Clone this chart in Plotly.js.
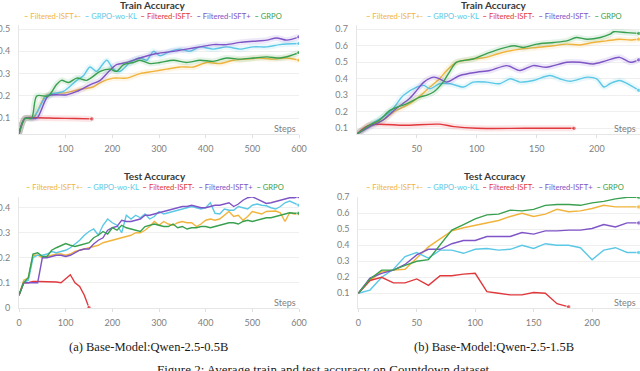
<!DOCTYPE html>
<html>
<head>
<meta charset="utf-8">
<script src="https://cdn.plot.ly/plotly-3.0.1.min.js"></script>
<style>
  html, body { margin: 0; padding: 0; background: #fff; }
  #chart { width: 640px; height: 371px; }
</style>
</head>
<body>
<div id="chart"></div>
<script>
// series order: Filtered-ISFT+-, GRPO-wo-KL, Filtered-ISFT-, Filtered-ISFT+, GRPO
var colors = ['#f0b43c', '#5bc8e6', '#e0383c', '#7e54c6', '#39a04f'];
var namesA = ['Filtered-ISFT+-', 'GRPO-wo-KL', 'Filtered-ISFT-', 'Filtered-ISFT+', 'GRPO'];
var namesB = ['Filtered-ISFT+-', 'GRPO-wo-KL', 'Filtered-ISFT-', 'Filtered-ISFT-', 'GRPO'];

// ---- Train accuracy, Qwen-2.5-0.5B (smoothed curves)
var tr05OrangeX = [0,13,30,56,70,102,131,159,174,202,231,259,288,316,345,374,402,431,459,488,516,545,574,600];
var tr05OrangeY = [0.03,0.1,0.1,0.2,0.21,0.215,0.23,0.24,0.26,0.28,0.28,0.3,0.31,0.32,0.33,0.33,0.35,0.345,0.36,0.365,0.37,0.365,0.37,0.36];
var tr05CyanX = [0,13,30,59,95,124,138,152,166,188,202,216,238,259,274,288,302,324,345,366,388,416,445,474,502,531,559,600];
var tr05CyanY = [0.03,0.1,0.1,0.2,0.22,0.27,0.29,0.33,0.31,0.36,0.32,0.31,0.35,0.37,0.36,0.4,0.38,0.4,0.41,0.4,0.42,0.41,0.42,0.41,0.42,0.42,0.43,0.435];
var tr05RedX = [0,13,40,80,120,156];
var tr05RedY = [0.03,0.1,0.102,0.1,0.099,0.097];
var tr05PurpleX = [0,13,38,63,102,124,152,174,188,209,231,259,295,331,359,388,416,445,474,502,531,552,574,600];
var tr05PurpleY = [0.03,0.1,0.1,0.2,0.205,0.22,0.25,0.27,0.3,0.34,0.35,0.37,0.39,0.4,0.41,0.42,0.43,0.43,0.44,0.445,0.45,0.46,0.45,0.465];
var tr05GreenX = [0,13,27,38,63,80,91,106,124,145,174,195,209,224,245,259,281,302,331,359,388,416,445,474,502,531,559,581,600];
var tr05GreenY = [0.03,0.1,0.1,0.2,0.2,0.25,0.27,0.26,0.28,0.27,0.31,0.32,0.31,0.34,0.35,0.36,0.345,0.35,0.36,0.35,0.36,0.355,0.37,0.365,0.37,0.375,0.37,0.38,0.395];

// ---- Train accuracy, Qwen-2.5-1.5B
var tr15OrangeX = [0,11,22,31,42,50,61,69,75,83,97,108,117,128,136,150,164,175,186,197,208,219,228,235];
var tr15OrangeY = [0.064,0.12,0.15,0.2,0.24,0.28,0.35,0.4,0.45,0.5,0.52,0.53,0.55,0.57,0.58,0.59,0.6,0.61,0.605,0.62,0.63,0.64,0.635,0.64];
var tr15CyanX = [0,11,28,39,50,56,61,69,78,89,97,108,119,128,136,147,161,169,178,192,200,206,211,219,228,235];
var tr15CyanY = [0.064,0.12,0.2,0.3,0.35,0.36,0.34,0.37,0.37,0.35,0.38,0.38,0.37,0.4,0.38,0.39,0.42,0.4,0.385,0.41,0.4,0.35,0.37,0.39,0.36,0.33];
var tr15RedX = [0,11,40,69,81,100,140,181];
var tr15RedY = [0.064,0.12,0.118,0.125,0.11,0.1,0.1,0.1];
var tr15PurpleX = [0,14,22,33,44,50,56,64,69,75,86,100,111,125,136,147,158,175,186,197,208,219,228,235];
var tr15PurpleY = [0.064,0.12,0.15,0.22,0.28,0.33,0.38,0.41,0.4,0.38,0.42,0.44,0.45,0.48,0.45,0.48,0.47,0.5,0.5,0.49,0.51,0.53,0.5,0.515];
var tr15GreenX = [0,11,19,28,42,53,58,64,72,78,83,97,111,119,131,139,150,164,175,183,192,203,211,214,225,235];
var tr15GreenY = [0.064,0.12,0.15,0.21,0.25,0.29,0.3,0.32,0.38,0.45,0.5,0.52,0.56,0.58,0.6,0.59,0.61,0.62,0.63,0.65,0.64,0.65,0.67,0.685,0.68,0.675];

// ---- Test accuracy, Qwen-2.5-0.5B (every 10 steps)
var te05Steps = [0,10,20,30,40,50,60,70,80,90,100,110,120,130,140,150,160,170,180,190,200,210,220,230,240,250,260,270,280,290,300,310,320,330,340,350,360,370,380,390,400,410,420,430,440,450,460,470,480,490,500,510,520,530,540,550,560,570,580,590,600];
var te05Orange = [0.05,0.11,0.12,0.21,0.21,0.2,0.205,0.21,0.215,0.215,0.21,0.215,0.225,0.23,0.235,0.24,0.245,0.25,0.26,0.265,0.27,0.275,0.28,0.285,0.29,0.3,0.3,0.31,0.325,0.345,0.33,0.345,0.335,0.33,0.34,0.345,0.34,0.34,0.325,0.335,0.35,0.355,0.35,0.355,0.37,0.385,0.365,0.37,0.35,0.365,0.385,0.38,0.375,0.385,0.387,0.387,0.38,0.345,0.38,0.375,0.375];
var te05Cyan = [0.05,0.1,0.11,0.2,0.21,0.21,0.215,0.225,0.22,0.225,0.23,0.24,0.255,0.27,0.29,0.305,0.315,0.29,0.33,0.355,0.34,0.33,0.3,0.37,0.355,0.37,0.36,0.375,0.355,0.365,0.385,0.375,0.38,0.385,0.39,0.395,0.4,0.405,0.4,0.395,0.4,0.42,0.378,0.375,0.395,0.39,0.39,0.405,0.4,0.395,0.41,0.415,0.41,0.408,0.4,0.395,0.405,0.42,0.427,0.42,0.41];
var te05Red = [0.05,0.1,0.1,0.105,0.105,0.105,0.105,0.105,0.103,0.1,0.115,0.132,0.1,0.085,0.05,0];
var te05Purple = [0.05,0.1,0.1,0.1,0.1,0.2,0.2,0.205,0.21,0.21,0.205,0.21,0.22,0.23,0.235,0.235,0.255,0.27,0.28,0.31,0.32,0.325,0.35,0.345,0.345,0.35,0.355,0.37,0.37,0.375,0.38,0.385,0.39,0.395,0.4,0.405,0.405,0.41,0.405,0.4,0.4,0.405,0.41,0.41,0.415,0.42,0.405,0.415,0.43,0.44,0.444,0.435,0.425,0.417,0.42,0.425,0.433,0.437,0.44,0.44,0.444];
var te05Green = [0.05,0.1,0.12,0.215,0.22,0.205,0.205,0.23,0.24,0.25,0.257,0.25,0.245,0.25,0.255,0.26,0.28,0.29,0.305,0.295,0.32,0.31,0.33,0.32,0.315,0.31,0.305,0.325,0.33,0.335,0.33,0.325,0.325,0.335,0.32,0.325,0.315,0.32,0.32,0.325,0.325,0.32,0.325,0.33,0.335,0.34,0.34,0.335,0.345,0.35,0.345,0.35,0.355,0.36,0.36,0.365,0.37,0.375,0.38,0.378,0.378];

// ---- Test accuracy, Qwen-2.5-1.5B (every 10 steps)
var te15Steps = [0,10,20,30,40,50,60,70,80,90,100,110,120,130,140,150,160,170,180,190,200,210,220,230,240];
var te15Orange = [0.1,0.18,0.235,0.245,0.25,0.32,0.39,0.44,0.49,0.51,0.525,0.54,0.555,0.58,0.6,0.58,0.595,0.625,0.61,0.615,0.63,0.65,0.64,0.64,0.64];
var te15Cyan = [0.1,0.12,0.2,0.25,0.33,0.355,0.32,0.37,0.37,0.35,0.375,0.38,0.37,0.375,0.4,0.38,0.41,0.4,0.4,0.385,0.31,0.37,0.385,0.355,0.355];
var te15Red = [0.1,0.18,0.2,0.165,0.165,0.19,0.15,0.21,0.21,0.22,0.225,0.11,0.1,0.09,0.09,0.105,0.1,0.035,0.015];
var te15Purple = [0.1,0.195,0.225,0.245,0.28,0.34,0.375,0.375,0.41,0.43,0.43,0.455,0.455,0.455,0.48,0.47,0.49,0.49,0.495,0.495,0.505,0.53,0.515,0.54,0.54];
var te15Green = [0.1,0.19,0.245,0.245,0.275,0.3,0.31,0.4,0.495,0.53,0.565,0.59,0.595,0.62,0.615,0.625,0.65,0.655,0.655,0.65,0.665,0.675,0.69,0.7,0.7];

var W = 640, H = 371;
function px(x) { return x / W; }
function py(y) { return 1 - y / H; }

var traces = [];
function addSeries(xs, ys, ci, xa, ya, smooth) {
  var shape = smooth ? 'spline' : 'linear';
  if (smooth) {
    // faint wide band standing in for the raw, unsmoothed run
    traces.push({
      x: xs, y: ys, xaxis: xa, yaxis: ya, mode: 'lines', showlegend: false,
      hoverinfo: 'skip', opacity: 0.13,
      line: {color: colors[ci], width: 6, shape: shape, smoothing: 0.8}
    });
  }
  var sizes = xs.map(function (v, i) { return i === xs.length - 1 ? 4.5 : 0; });
  traces.push({
    x: xs, y: ys, xaxis: xa, yaxis: ya, mode: 'lines+markers', showlegend: false,
    line: {color: colors[ci], width: 1.4, shape: shape, smoothing: 0.8},
    marker: {color: colors[ci], size: sizes}
  });
}

addSeries(tr05OrangeX, tr05OrangeY, 0, 'x', 'y', true);
addSeries(tr05CyanX, tr05CyanY, 1, 'x', 'y', true);
addSeries(tr05RedX, tr05RedY, 2, 'x', 'y', true);
addSeries(tr05PurpleX, tr05PurpleY, 3, 'x', 'y', true);
addSeries(tr05GreenX, tr05GreenY, 4, 'x', 'y', true);

addSeries(tr15OrangeX, tr15OrangeY, 0, 'x2', 'y2', true);
addSeries(tr15CyanX, tr15CyanY, 1, 'x2', 'y2', true);
addSeries(tr15RedX, tr15RedY, 2, 'x2', 'y2', true);
addSeries(tr15PurpleX, tr15PurpleY, 3, 'x2', 'y2', true);
addSeries(tr15GreenX, tr15GreenY, 4, 'x2', 'y2', true);

addSeries(te05Steps, te05Orange, 0, 'x3', 'y3', false);
addSeries(te05Steps, te05Cyan, 1, 'x3', 'y3', false);
addSeries(te05Steps.slice(0, te05Red.length), te05Red, 2, 'x3', 'y3', false);
addSeries(te05Steps, te05Purple, 3, 'x3', 'y3', false);
addSeries(te05Steps, te05Green, 4, 'x3', 'y3', false);

addSeries(te15Steps, te15Orange, 0, 'x4', 'y4', false);
addSeries(te15Steps, te15Cyan, 1, 'x4', 'y4', false);
addSeries(te15Steps.slice(0, te15Red.length), te15Red, 2, 'x4', 'y4', false);
addSeries(te15Steps, te15Purple, 3, 'x4', 'y4', false);
addSeries(te15Steps, te15Green, 4, 'x4', 'y4', false);

var tickFont = {family: 'Lato, sans-serif', size: 9, color: '#808080'};
function xAxis(d, r, vals, anchor) {
  return {
    domain: d, range: r, anchor: anchor, tickvals: vals, tickfont: tickFont,
    showgrid: false, zeroline: false, showline: true, linecolor: '#e6e6e6', linewidth: 1,
    ticks: 'outside', ticklen: 3, tickcolor: '#e0e0e0', ticklabelstandoff: 3
  };
}
function yAxis(d, r, vals, anchor) {
  return {
    domain: d, range: r, anchor: anchor, tickvals: vals, tickfont: tickFont,
    showgrid: true, gridcolor: '#efefef', gridwidth: 1, zeroline: false,
    showline: true, linecolor: '#e6e6e6', linewidth: 1, ticks: '', ticklabelstandoff: 6
  };
}

var annotations = [];
function legendText(names) {
  return names.map(function (n, i) {
    return '<span style="color:' + colors[i] + '"><b>–</b> ' + n + '</span>';
  }).join('  ');
}
function panelText(cx, titleY, title, names, stepsX, stepsY) {
  annotations.push({xref: 'paper', yref: 'paper', x: px(cx), y: py(titleY), xanchor: 'center', yanchor: 'middle',
    text: '<b>' + title + '</b>', showarrow: false, font: {family: 'Lato, sans-serif', size: 10, color: '#3a3a3a'}});
  annotations.push({xref: 'paper', yref: 'paper', x: px(cx), y: py(titleY + 11), xanchor: 'center', yanchor: 'middle',
    text: legendText(names), showarrow: false, font: {family: 'Lato, sans-serif', size: 7.6, color: '#888'}});
  annotations.push({xref: 'paper', yref: 'paper', x: px(stepsX), y: py(stepsY), xanchor: 'right', yanchor: 'middle',
    text: 'Steps', showarrow: false, font: {family: 'Lato, sans-serif', size: 9, color: '#808080'}});
}
panelText(153, 5, 'Train Accuracy', namesA, 298, 129);
panelText(494, 5, 'Train Accuracy', namesB, 638, 128);
panelText(155, 176, 'Test Accuracy', namesA, 298, 302);
panelText(495, 176, 'Test Accuracy', namesA, 638, 302);

var serif = {family: '"Liberation Serif", "Times New Roman", serif', size: 12.5, color: '#1a1a1a'};
annotations.push({xref: 'paper', yref: 'paper', x: px(148), y: py(347), xanchor: 'center', yanchor: 'middle',
  text: '(a) Base-Model:Qwen-2.5-0.5B', showarrow: false, font: serif});
annotations.push({xref: 'paper', yref: 'paper', x: px(494), y: py(347), xanchor: 'center', yanchor: 'middle',
  text: '(b) Base-Model:Qwen-2.5-1.5B', showarrow: false, font: serif});
annotations.push({xref: 'paper', yref: 'paper', x: px(325), y: py(369), xanchor: 'center', yanchor: 'middle',
  text: 'Figure 2: Average train and test accuracy on Countdown dataset.', showarrow: false,
  font: {family: serif.family, size: 13, color: '#1a1a1a'}});

var layout = {
  width: W, height: H,
  margin: {l: 0, r: 0, t: 0, b: 0},
  paper_bgcolor: '#ffffff', plot_bgcolor: '#ffffff',
  showlegend: false,
  xaxis: xAxis([px(19), px(299)], [0, 600], [100, 200, 300, 400, 500, 600], 'y'),
  yaxis: yAxis([py(134.3), py(25)], [0.028, 0.518], [0.1, 0.2, 0.3, 0.4, 0.5], 'x'),
  xaxis2: xAxis([px(356.7), 1], [0, 236], [50, 100, 150, 200], 'y2'),
  yaxis2: yAxis([py(134.3), py(25)], [0.0636, 0.726], [0.1, 0.2, 0.3, 0.4, 0.5, 0.6, 0.7], 'x2'),
  xaxis3: xAxis([px(19), px(299)], [0, 600], [0, 100, 200, 300, 400, 500, 600], 'y3'),
  yaxis3: yAxis([py(308), py(197)], [-0.001, 0.443], [0, 0.1, 0.2, 0.3, 0.4], 'x3'),
  xaxis4: xAxis([px(358.3), 1], [0, 241], [0, 50, 100, 150, 200], 'y4'),
  yaxis4: yAxis([py(308), py(197)], [0.008, 0.702], [0.1, 0.2, 0.3, 0.4, 0.5, 0.6, 0.7], 'x4'),
  annotations: annotations
};

Plotly.newPlot('chart', traces, layout, {displayModeBar: false, staticPlot: true});
</script>
</body>
</html>
